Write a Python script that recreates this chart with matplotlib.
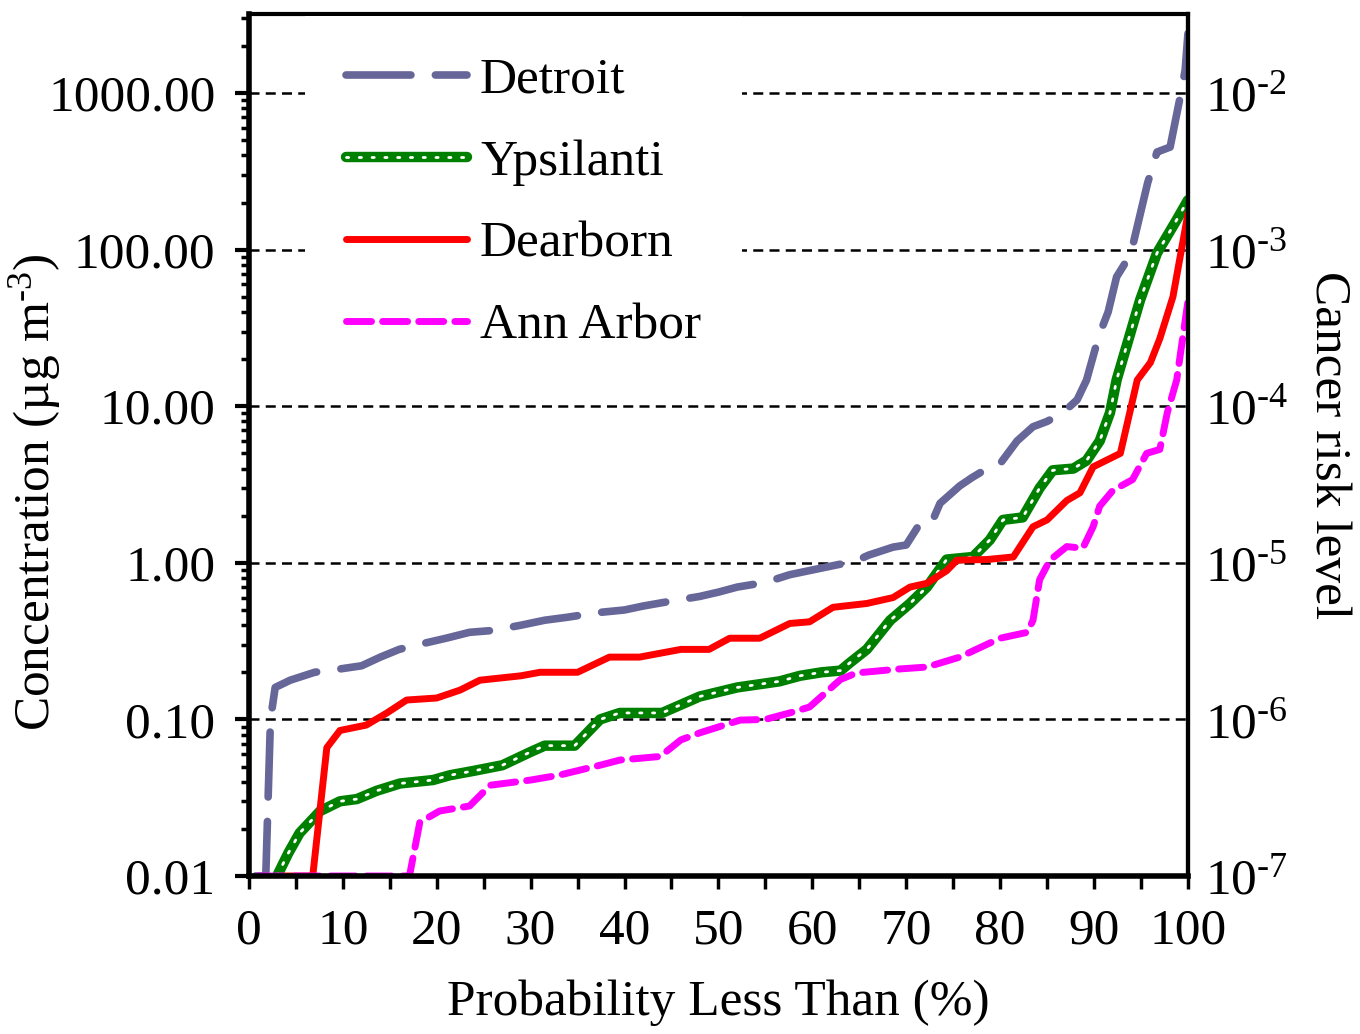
# Concentration / cancer risk curves for four cities

import numpy as np
import matplotlib
matplotlib.use('Agg')
import matplotlib.pyplot as plt
from matplotlib.ticker import FixedLocator, NullLocator, LogLocator, FormatStrFormatter

plt.rcParams['font.family'] = ['Liberation Serif', 'DejaVu Serif']
plt.rcParams['mathtext.fontset'] = 'custom'
plt.rcParams['mathtext.rm'] = 'Liberation Serif'
plt.rcParams['mathtext.it'] = 'Liberation Serif:italic'

# Datos (x = % probabilidad, y = ug/m3)
detroit_x = [0.7, 1.8, 2.3, 2.8, 4.4, 7, 9.7, 12, 14, 16, 18, 21, 23.5, 26, 29, 31.5, 34, 37, 40, 42,
             45, 48, 50, 52, 55, 57.6, 60, 62.6, 64.5, 66, 68.6, 70, 71.5, 72.7, 73.6, 75.7, 77, 78.9,
             80, 81.8, 83.5, 85, 86.7, 88.2, 89.2, 90.5, 91.5, 92.4, 93.2, 94.1, 95.7, 96.7, 98.1,
             99.1, 99.7, 100]
detroit_y = [0.01, 0.01, 0.1, 0.16, 0.178, 0.2, 0.21, 0.22, 0.25, 0.28, 0.30, 0.33, 0.36, 0.37, 0.40,
             0.43, 0.45, 0.48, 0.50, 0.53, 0.57, 0.61, 0.65, 0.70, 0.75, 0.84, 0.90, 0.97, 1.02, 1.12,
             1.26, 1.3, 1.8, 1.8, 2.4, 3.1, 3.5, 4.1, 4.3, 6.0, 7.4, 8.0, 9.1, 11, 14.7, 28, 40, 67,
             80, 105, 266, 420, 452, 900, 1400, 2400]

ypsi_x = [3.0, 4.2, 5.4, 7.6, 9.7, 11.5, 13.6, 16.1, 19.6, 21.4, 24, 27, 30, 31.5, 34.7, 37.4, 39.5,
          44, 48, 52, 56.5, 58.7, 61, 63, 64, 65.8, 68.3, 70.4, 72.2, 74.3, 77.1, 78.9, 80.3, 82.4,
          84.2, 85.6, 87.8, 89.2, 90.6, 91.7, 92.4, 94.9, 96.7, 98.8, 100]
ypsi_y = [0.01, 0.014, 0.0188, 0.026, 0.030, 0.031, 0.035, 0.039, 0.041, 0.044, 0.047, 0.051, 0.062,
          0.068, 0.068, 0.10, 0.11, 0.11, 0.14, 0.16, 0.175, 0.19, 0.20, 0.205, 0.23, 0.28, 0.43,
          0.55, 0.70, 1.05, 1.09, 1.4, 1.88, 1.95, 3.0, 3.9, 4.0, 4.5, 6.0, 9.1, 14.7, 47.6, 95,
          155, 207]

dear_x = [3.5, 6.8, 8.3, 9.7, 12.5, 14.7, 16.8, 20, 22.5, 24.6, 29, 31, 35, 38.4, 41.6, 46, 49, 51.2,
          54.4, 57.6, 59.7, 62.2, 65.8, 68.6, 70.4, 72.2, 74.3, 75.4, 78.6, 81.4, 83.5, 85, 87.1,
          88.5, 89.9, 92.8, 93.8, 94.6, 96, 97, 98.4, 100]
dear_y = [0.01, 0.01, 0.066, 0.085, 0.092, 0.11, 0.133, 0.137, 0.154, 0.178, 0.19, 0.20, 0.20, 0.25,
          0.25, 0.28, 0.28, 0.33, 0.33, 0.41, 0.42, 0.52, 0.55, 0.60, 0.70, 0.74, 0.89, 1.04, 1.05,
          1.09, 1.70, 1.88, 2.5, 2.8, 4.1, 5.0, 9.1, 14.7, 19, 27, 50, 170]

ann_x = [1.0, 17.1, 18.2, 20.3, 23.5, 25.7, 30, 33, 37.4, 39.5, 43.8, 46, 48, 52.3, 55, 57.6, 59.7,
         63, 64.7, 69.3, 72.2, 75.7, 80, 82.9, 83.5, 84.2, 85.3, 87.1, 88.8, 89.9, 90.6, 92, 94.1,
         95.6, 97, 97.8, 98.8, 100]
ann_y = [0.01, 0.01, 0.022, 0.026, 0.028, 0.038, 0.041, 0.044, 0.051, 0.055, 0.058, 0.074, 0.082,
         0.099, 0.10, 0.11, 0.12, 0.18, 0.198, 0.21, 0.216, 0.25, 0.33, 0.36, 0.43, 0.78, 1.04,
         1.27, 1.24, 1.70, 2.3, 2.9, 3.4, 5.0, 5.3, 9.1, 14.7, 47]

conc_ticks = [0.01, 0.1, 1, 10, 100, 1000]
risk_ticks = [1e-7, 1e-6, 1e-5, 1e-4, 1e-3, 1e-2]
risk_labels = ['$\\mathregular{10^{\\text{-}7}}$', '$\\mathregular{10^{\\text{-}6}}$',
               '$\\mathregular{10^{\\text{-}5}}$', '$\\mathregular{10^{\\text{-}4}}$',
               '$\\mathregular{10^{\\text{-}3}}$', '$\\mathregular{10^{\\text{-}2}}$']
x_ticks = list(range(0, 101, 10))

ymin, ymax = 0.01, 3200
fs = 37

fig = plt.figure(figsize=(13.6, 10.34), dpi=100)
ax = fig.add_axes([0.183, 0.1528, 0.6905, 0.8337])

l1, = ax.plot(detroit_x, detroit_y, color='#666699', lw=5.5, dashes=(8.5, 3.2),
              solid_capstyle='round', dash_capstyle='round')
l2a, = ax.plot(ypsi_x, ypsi_y, color='#008000', lw=7.5, solid_capstyle='round')
l2b, = ax.plot(ypsi_x, ypsi_y, color='white', lw=2, dashes=(0.8, 3.8), dash_capstyle='round')
l3, = ax.plot(dear_x, dear_y, color='#ff0000', lw=5, solid_capstyle='round')
l4, = ax.plot(ann_x, ann_y, color='#ff00ff', lw=5, dashes=(3.6, 1.6), dash_capstyle='round')

ax.set_yscale('log')
ax.set_ylim(ymin, ymax)
ax.set_xlim(0, 100)
ax.yaxis.set_major_locator(FixedLocator(conc_ticks))
ax.yaxis.set_minor_locator(LogLocator(base=10, subs=np.arange(2, 10), numticks=20))
ax.yaxis.set_major_formatter(FormatStrFormatter('%.2f'))
ax.set_xticks(x_ticks)
ax.xaxis.set_minor_locator(FixedLocator(range(5, 100, 10)))

ax.grid(axis='y', which='major', color='black', lw=1.8, linestyle=(0, (4, 2.5)))
ax.set_axisbelow(True)

ax.tick_params(axis='y', which='major', direction='out', length=10, width=3, labelsize=fs, pad=14)
ax.tick_params(axis='y', which='minor', direction='out', length=6, width=2.5)
ax.tick_params(axis='x', which='both', direction='out', length=9, width=2.5, labelsize=fs, pad=14)

for s in ['left', 'bottom']:
    ax.spines[s].set_linewidth(4)
for s in ['top', 'right']:
    ax.spines[s].set_linewidth(3)

ax.set_xlabel('Probability Less Than (%)', fontsize=fs, labelpad=18)
ax.set_ylabel('Concentration (µg m$^{\\mathregular{\\text{-}3}}$)', fontsize=fs)
ax.yaxis.set_label_coords(-0.198, 0.445)

ax2 = ax.twinx()
ax2.set_yscale('log')
ax2.set_ylim(ymin * 1e-5, ymax * 1e-5)
ax2.yaxis.set_major_locator(FixedLocator(risk_ticks))
ax2.yaxis.set_minor_locator(NullLocator())
ax2.set_yticklabels(risk_labels)
ax2.tick_params(axis='y', length=0, labelsize=fs, pad=12)
ax2.spines['right'].set_linewidth(3)
ax2.set_ylabel('Cancer risk level', fontsize=fs, rotation=270, labelpad=46)

leg = ax.legend([l1, (l2a, l2b), l3, l4], ['Detroit', 'Ypsilanti', 'Dearborn', 'Ann Arbor'],
                loc='upper left', bbox_to_anchor=(0.06, 0.998), fontsize=fs, frameon=True,
                facecolor='white', edgecolor='none', framealpha=1, fancybox=False,
                handlelength=2.35, handletextpad=0.25, labelspacing=0.68, borderpad=0.8,
                borderaxespad=0)
leg.set_zorder(5)

fig.savefig('out.png', dpi=100)
